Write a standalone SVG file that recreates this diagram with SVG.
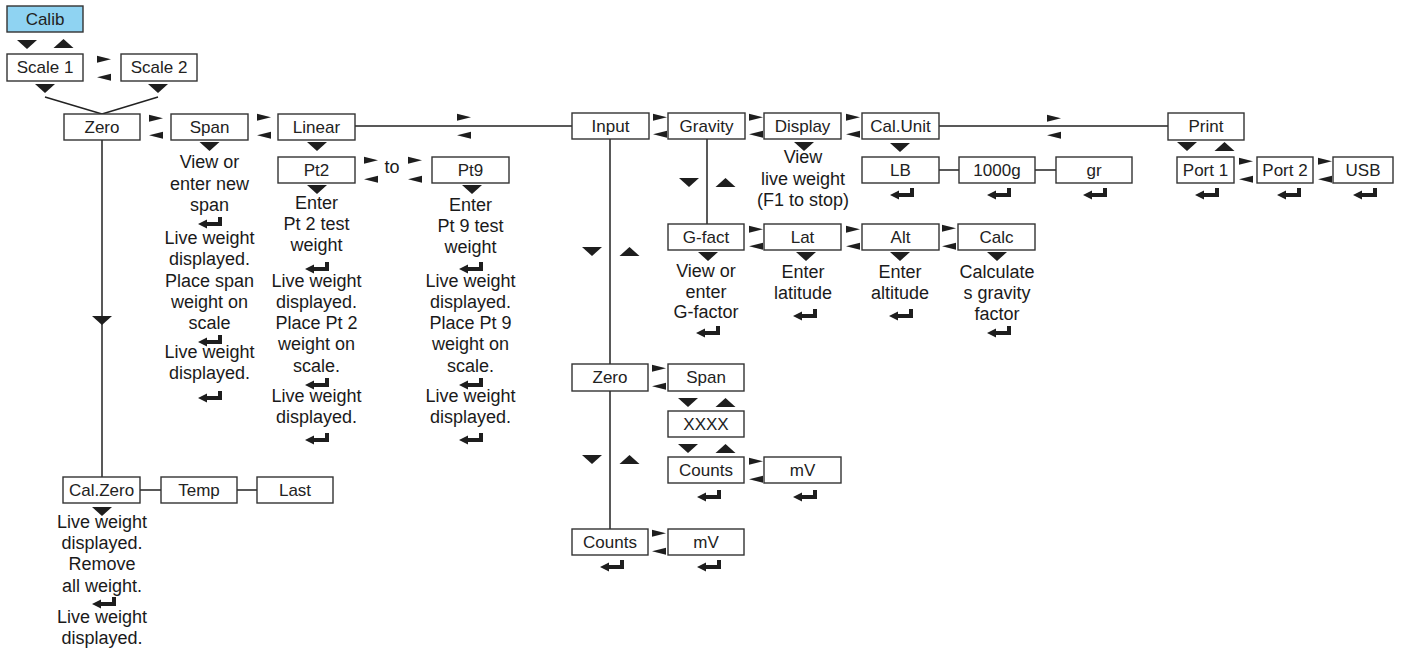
<svg xmlns="http://www.w3.org/2000/svg" xmlns:xlink="http://www.w3.org/1999/xlink" width="1402" height="652" viewBox="0 0 1402 652">
<style>
.b{fill:#fff;stroke:#333;stroke-width:1.4}
.c{fill:#8fd3f2;stroke:#333;stroke-width:1.4}
.l{font-family:"Liberation Sans",Arial,sans-serif;font-size:17px;fill:#222;text-anchor:middle}
.d{font-family:"Liberation Sans",Arial,sans-serif;font-size:18px;fill:#1a1a1a;text-anchor:middle}
.w{stroke:#222;stroke-width:1.5;fill:none}
.t{fill:#1e1e1e}
</style>
<defs>
<path id="td" d="M-10,0 L10,0 L0,9 Z"/>
<path id="tu" d="M-10,9 L10,9 L0,0 Z"/>
<path id="ar" d="M0,-0.3 L14,3.25 L0,6.8 Z"/>
<path id="al" d="M14,-0.3 L0,3.25 L14,6.8 Z"/>
<g id="ent"><rect x="20" y="0" width="4" height="9"/><rect x="7" y="5" width="17" height="4"/><path d="M0,7 L9,2.5 L9,11.5 Z"/></g>
</defs>
<rect width="1402" height="652" fill="#fff"/>
<g id="connectors">
<g class="w">
<line x1="355" y1="126" x2="572" y2="126"/>
<line x1="939" y1="126" x2="1168" y2="126"/>
<line x1="102" y1="140" x2="102" y2="477"/>
<line x1="610" y1="139" x2="610" y2="529"/>
<line x1="707" y1="139" x2="707" y2="224"/>
<line x1="45" y1="97" x2="102" y2="114"/>
<line x1="158" y1="97" x2="102" y2="114"/>
<line x1="939" y1="170" x2="959" y2="170"/>
<line x1="1035" y1="170" x2="1056" y2="170"/>
<line x1="140" y1="490" x2="161" y2="490"/>
<line x1="237" y1="490" x2="257" y2="490"/>
</g>
<g class="t">
<use xlink:href="#td" x="27" y="40"/><use xlink:href="#tu" x="63.5" y="39"/>
<use xlink:href="#td" x="45" y="84"/><use xlink:href="#td" x="158" y="84"/>
<use xlink:href="#td" x="102" y="316"/>
<use xlink:href="#td" x="209.5" y="142"/>
<use xlink:href="#td" x="317" y="142"/>
<use xlink:href="#td" x="317" y="185"/>
<use xlink:href="#td" x="472" y="185"/>
<use xlink:href="#td" x="804" y="142"/>
<use xlink:href="#td" x="900" y="143"/>
<use xlink:href="#td" x="1187" y="142"/><use xlink:href="#tu" x="1224.5" y="142"/>
<use xlink:href="#td" x="689" y="178"/><use xlink:href="#tu" x="725.5" y="178"/>
<use xlink:href="#td" x="708" y="252"/>
<use xlink:href="#td" x="806" y="252"/>
<use xlink:href="#td" x="900" y="252"/>
<use xlink:href="#td" x="997" y="252"/>
<use xlink:href="#td" x="592" y="247"/><use xlink:href="#tu" x="629.5" y="247"/>
<use xlink:href="#td" x="592" y="455"/><use xlink:href="#tu" x="629.5" y="455"/>
<use xlink:href="#td" x="688" y="398"/><use xlink:href="#tu" x="725.5" y="398"/>
<use xlink:href="#td" x="688" y="444"/><use xlink:href="#tu" x="725.5" y="444"/>
<use xlink:href="#td" x="102" y="507"/>
<use xlink:href="#ar" x="97" y="56"/><use xlink:href="#al" x="97" y="74"/>
<use xlink:href="#ar" x="149" y="115"/><use xlink:href="#al" x="149" y="132"/>
<use xlink:href="#ar" x="257" y="114"/><use xlink:href="#al" x="257" y="132"/>
<use xlink:href="#ar" x="457" y="114"/><use xlink:href="#al" x="457" y="132"/>
<use xlink:href="#ar" x="364" y="157"/><use xlink:href="#al" x="364" y="176"/>
<use xlink:href="#ar" x="408" y="157"/><use xlink:href="#al" x="408" y="176"/>
<use xlink:href="#ar" x="653" y="114"/><use xlink:href="#al" x="653" y="131"/>
<use xlink:href="#ar" x="749" y="114"/><use xlink:href="#al" x="749" y="131"/>
<use xlink:href="#ar" x="846" y="114"/><use xlink:href="#al" x="846" y="131"/>
<use xlink:href="#ar" x="1047" y="115"/><use xlink:href="#al" x="1047" y="132"/>
<use xlink:href="#ar" x="1239" y="158"/><use xlink:href="#al" x="1239" y="176"/>
<use xlink:href="#ar" x="1318" y="158"/><use xlink:href="#al" x="1318" y="176"/>
<use xlink:href="#ar" x="749" y="226"/><use xlink:href="#al" x="749" y="243"/>
<use xlink:href="#ar" x="846" y="226"/><use xlink:href="#al" x="846" y="243"/>
<use xlink:href="#ar" x="942" y="225"/><use xlink:href="#al" x="942" y="243"/>
<use xlink:href="#ar" x="652" y="365"/><use xlink:href="#al" x="652" y="383"/>
<use xlink:href="#ar" x="749" y="458"/><use xlink:href="#al" x="749" y="476"/>
<use xlink:href="#ar" x="652" y="530"/><use xlink:href="#al" x="652" y="548"/>
</g>
<text class="d" x="392" y="173">to</text>
</g>
<g id="calib"><rect class="c" x="7" y="6" width="76" height="26"/><text class="l" x="45" y="25">Calib</text></g>
<g id="scale1"><rect class="b" x="7" y="54" width="76" height="27"/><text class="l" x="45" y="73">Scale 1</text></g>
<g id="scale2"><rect class="b" x="121" y="54" width="76" height="27"/><text class="l" x="159" y="73">Scale 2</text></g>
<g id="zero"><rect class="b" x="64" y="114" width="76" height="26"/><text class="l" x="102" y="133">Zero</text></g>
<g id="span"><rect class="b" x="171" y="114" width="77" height="26"/><text class="l" x="209.5" y="133">Span</text>
<text class="d" x="209.5" y="168">View or</text><text class="d" x="209.5" y="190">enter new</text><text class="d" x="209.5" y="211">span</text>
<use class="t" xlink:href="#ent" x="198" y="217"/>
<text class="d" x="209.5" y="244">Live weight</text><text class="d" x="209.5" y="265">displayed.</text><text class="d" x="209.5" y="287">Place span</text><text class="d" x="209.5" y="308">weight on</text><text class="d" x="209.5" y="329">scale</text>
<use class="t" xlink:href="#ent" x="198" y="335"/>
<text class="d" x="209.5" y="358">Live weight</text><text class="d" x="209.5" y="379">displayed.</text>
<use class="t" xlink:href="#ent" x="198" y="391"/>
</g>
<g id="linear"><rect class="b" x="278" y="114" width="77" height="26"/><text class="l" x="316.5" y="133">Linear</text></g>
<g id="pt2"><rect class="b" x="278" y="157" width="77" height="26"/><text class="l" x="316.5" y="176">Pt2</text>
<text class="d" x="316.5" y="209">Enter</text><text class="d" x="316.5" y="230">Pt 2 test</text><text class="d" x="316.5" y="251">weight</text>
<use class="t" xlink:href="#ent" x="305" y="262"/>
<text class="d" x="316.5" y="287">Live weight</text><text class="d" x="316.5" y="308">displayed.</text><text class="d" x="316.5" y="329">Place Pt 2</text><text class="d" x="316.5" y="350">weight on</text><text class="d" x="316.5" y="372">scale.</text>
<use class="t" xlink:href="#ent" x="305" y="378"/>
<text class="d" x="316.5" y="402">Live weight</text><text class="d" x="316.5" y="423">displayed.</text>
<use class="t" xlink:href="#ent" x="305" y="433"/>
</g>
<g id="pt9"><rect class="b" x="432" y="157" width="77" height="26"/><text class="l" x="470.5" y="176">Pt9</text>
<text class="d" x="470.5" y="211">Enter</text><text class="d" x="470.5" y="232">Pt 9 test</text><text class="d" x="470.5" y="253">weight</text>
<use class="t" xlink:href="#ent" x="459" y="262"/>
<text class="d" x="470.5" y="287">Live weight</text><text class="d" x="470.5" y="308">displayed.</text><text class="d" x="470.5" y="329">Place Pt 9</text><text class="d" x="470.5" y="350">weight on</text><text class="d" x="470.5" y="372">scale.</text>
<use class="t" xlink:href="#ent" x="459" y="378"/>
<text class="d" x="470.5" y="402">Live weight</text><text class="d" x="470.5" y="423">displayed.</text>
<use class="t" xlink:href="#ent" x="459" y="433"/>
</g>
<g id="input"><rect class="b" x="572" y="113" width="77" height="26"/><text class="l" x="610.5" y="132">Input</text></g>
<g id="gravity"><rect class="b" x="668" y="113" width="77" height="26"/><text class="l" x="706.5" y="132">Gravity</text></g>
<g id="display"><rect class="b" x="764" y="113" width="77" height="26"/><text class="l" x="802.5" y="132">Display</text>
<text class="d" x="803" y="163">View</text><text class="d" x="803" y="185">live weight</text><text class="d" x="803" y="206">(F1 to stop)</text></g>
<g id="calunit"><rect class="b" x="862" y="113" width="77" height="26"/><text class="l" x="900.5" y="132">Cal.Unit</text></g>
<g id="print"><rect class="b" x="1168" y="113" width="76" height="27"/><text class="l" x="1206" y="132">Print</text></g>
<g id="lb"><rect class="b" x="862" y="157" width="77" height="26"/><text class="l" x="900.5" y="176">LB</text><use class="t" xlink:href="#ent" x="890" y="188"/></g>
<g id="g1000"><rect class="b" x="959" y="157" width="76" height="26"/><text class="l" x="997" y="176">1000g</text><use class="t" xlink:href="#ent" x="987" y="188"/></g>
<g id="gr"><rect class="b" x="1056" y="157" width="76" height="26"/><text class="l" x="1094" y="176">gr</text><use class="t" xlink:href="#ent" x="1083" y="188"/></g>
<g id="port1"><rect class="b" x="1177" y="157" width="57" height="26"/><text class="l" x="1205.5" y="176">Port 1</text><use class="t" xlink:href="#ent" x="1195" y="188"/></g>
<g id="port2"><rect class="b" x="1257" y="157" width="56" height="26"/><text class="l" x="1285" y="176">Port 2</text><use class="t" xlink:href="#ent" x="1277" y="188"/></g>
<g id="usb"><rect class="b" x="1333" y="157" width="60" height="26"/><text class="l" x="1363" y="176">USB</text><use class="t" xlink:href="#ent" x="1353" y="188"/></g>
<g id="gfact"><rect class="b" x="668" y="224" width="76" height="26"/><text class="l" x="706" y="243">G-fact</text>
<text class="d" x="706" y="277">View or</text><text class="d" x="706" y="298">enter</text><text class="d" x="706" y="318">G-factor</text>
<use class="t" xlink:href="#ent" x="696" y="326"/></g>
<g id="lat"><rect class="b" x="764" y="224" width="77" height="26"/><text class="l" x="802.5" y="243">Lat</text>
<text class="d" x="803" y="278">Enter</text><text class="d" x="803" y="299">latitude</text>
<use class="t" xlink:href="#ent" x="793" y="309"/></g>
<g id="alt"><rect class="b" x="862" y="224" width="77" height="26"/><text class="l" x="900.5" y="243">Alt</text>
<text class="d" x="900" y="278">Enter</text><text class="d" x="900" y="299">altitude</text>
<use class="t" xlink:href="#ent" x="889" y="309"/></g>
<g id="calc"><rect class="b" x="958" y="224" width="77" height="26"/><text class="l" x="996.5" y="243">Calc</text>
<text class="d" x="997" y="278">Calculate</text><text class="d" x="997" y="299">s gravity</text><text class="d" x="997" y="320">factor</text>
<use class="t" xlink:href="#ent" x="987" y="326"/></g>
<g id="zero2"><rect class="b" x="572" y="364" width="76" height="27"/><text class="l" x="610" y="383">Zero</text></g>
<g id="span2"><rect class="b" x="668" y="364" width="76" height="27"/><text class="l" x="706" y="383">Span</text></g>
<g id="xxxx"><rect class="b" x="668" y="411" width="76" height="26"/><text class="l" x="706" y="430">XXXX</text></g>
<g id="counts2"><rect class="b" x="668" y="457" width="76" height="26"/><text class="l" x="706" y="476">Counts</text><use class="t" xlink:href="#ent" x="697" y="490"/></g>
<g id="mv2"><rect class="b" x="764" y="457" width="77" height="26"/><text class="l" x="802.5" y="476">mV</text><use class="t" xlink:href="#ent" x="793" y="490"/></g>
<g id="counts"><rect class="b" x="572" y="529" width="76" height="26"/><text class="l" x="610" y="548">Counts</text><use class="t" xlink:href="#ent" x="600" y="560"/></g>
<g id="mv"><rect class="b" x="668" y="529" width="76" height="26"/><text class="l" x="706" y="548">mV</text><use class="t" xlink:href="#ent" x="697" y="560"/></g>
<g id="calzero"><rect class="b" x="63" y="477" width="77" height="26"/><text class="l" x="101.5" y="496">Cal.Zero</text>
<text class="d" x="102" y="528">Live weight</text><text class="d" x="102" y="549">displayed.</text><text class="d" x="102" y="570">Remove</text><text class="d" x="102" y="592">all weight.</text>
<use class="t" xlink:href="#ent" x="92" y="597"/>
<text class="d" x="102" y="623">Live weight</text><text class="d" x="102" y="644">displayed.</text></g>
<g id="temp"><rect class="b" x="161" y="477" width="76" height="26"/><text class="l" x="199" y="496">Temp</text></g>
<g id="last"><rect class="b" x="257" y="477" width="76" height="26"/><text class="l" x="295" y="496">Last</text></g>
</svg>
